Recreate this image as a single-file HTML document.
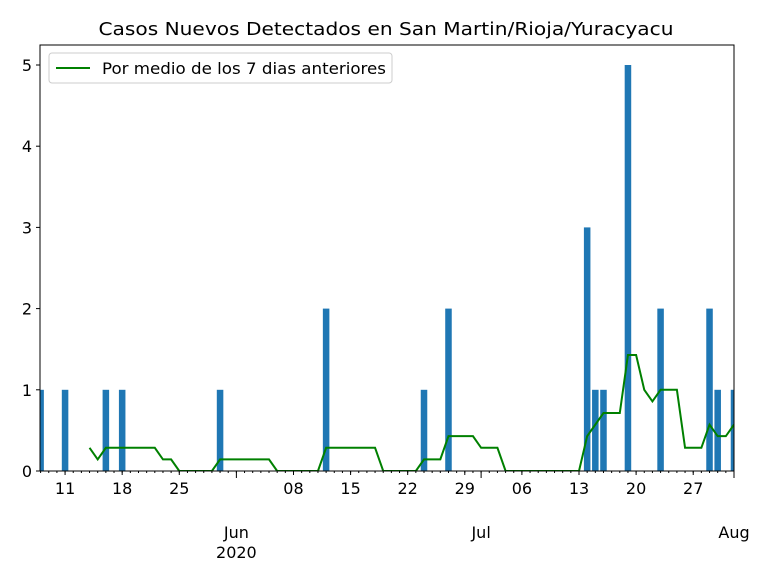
<!DOCTYPE html>
<html><head><meta charset="utf-8"><style>
body{margin:0;background:#fff;font-family:"Liberation Sans","DejaVu Sans",sans-serif;}
svg text{font-family:"DejaVu Sans","Liberation Sans",sans-serif;}
</style></head><body>
<svg id="c" width="768" height="576" xmlns="http://www.w3.org/2000/svg"></svg>
<script>
const barDays=[0,3,8,10,22,35,47,50,67,68,69,72,76,82,83,85];
const barValues=[1,1,1,1,1,2,1,2,3,1,1,5,2,2,1,1];
const lineStartDay=6;
const lineValues=[0.286,0.143,0.286,0.286,0.286,0.286,0.286,0.286,0.286,0.143,0.143,0,0,0,0,0,0.143,0.143,0.143,0.143,0.143,0.143,0.143,0,0,0,0,0,0,0.286,0.286,0.286,0.286,0.286,0.286,0.286,0,0,0,0,0,0.143,0.143,0.143,0.429,0.429,0.429,0.429,0.286,0.286,0.286,0,0,0,0,0,0,0,0,0,0,0.429,0.571,0.714,0.714,0.714,1.429,1.429,1.0,0.857,1.0,1.0,1.0,0.286,0.286,0.286,0.571,0.429,0.429,0.571];
const dayTickDays=[3,10,17,31,38,45,52,59,66,73,80];
const dayTickLabels=["11","18","25","08","15","22","29","06","13","20","27"];
const monthTickDays=[24,54,85];
const monthTickLabels=["Jun\n2020","Jul","Aug"];
const yTicks=[0,1,2,3,4,5];

const svg=document.getElementById('c');
const NS='http://www.w3.org/2000/svg';
const L=40.6,R=734,T=45,B=471;
const x=d=>L+(d)*(R-L)/85;
const y=v=>B-v*(B-65)/5;
function mk(tag,attrs,parent){const e=document.createElementNS(NS,tag);for(const k in attrs)e.setAttribute(k,attrs[k]);(parent||svg).appendChild(e);return e;}

const title=mk('text',{x:386,y:35,'text-anchor':'middle','font-size':18,textLength:575,lengthAdjust:'spacingAndGlyphs'});
title.textContent='Casos Nuevos Detectados en San Martin/Rioja/Yuracyacu';



const clip=mk('clipPath',{id:'pc'});mk('rect',{x:40,y:T,width:R-40,height:B-T},clip);
const plot=mk('g',{'clip-path':'url(#pc)'});


const bw=0.8*(R-L)/85;
barDays.forEach((d,i)=>{
  const r=mk('rect',{x:x(d)-bw/2,y:y(barValues[i]),width:bw,height:B-y(barValues[i]),fill:'#1f77b4'},plot);
  
  
});
const pts=lineValues.map((v,i)=>x(lineStartDay+i).toFixed(2)+','+y(v).toFixed(2)).join(' ');
const pl=mk('polyline',{points:pts,fill:'none',stroke:'#008000','stroke-width':2},plot);



const frame=mk('rect',{x:40,y:T,width:R-40,height:B-T,fill:'none',stroke:'#000','stroke-width':1});



yTicks.forEach(v=>{
  mk('line',{x1:36,x2:40,y1:y(v),y2:y(v),stroke:'#000'});
  const t=mk('text',{x:32,y:y(v)+6,'text-anchor':'end','font-size':16});t.textContent=v;
  
  
});
for(let d=0;d<=85;d++){mk('line',{x1:x(d),x2:x(d),y1:B,y2:B+2,stroke:'#000'});}
dayTickDays.forEach((d,i)=>{
  mk('line',{x1:x(d),x2:x(d),y1:B,y2:B+4,stroke:'#000'});
  const t=mk('text',{x:x(d),y:494,'text-anchor':'middle','font-size':16});t.textContent=dayTickLabels[i];
  
  
});
monthTickDays.forEach((d,i)=>{
  mk('line',{x1:x(d),x2:x(d),y1:B,y2:B+7,stroke:'#000'});
  monthTickLabels[i].split('\n').forEach((s,j)=>{
    const t=mk('text',{x:x(d),y:538+j*20,'text-anchor':'middle','font-size':16});t.textContent=s;
    
    
  });
});

const lg=mk('g',{});


mk('rect',{x:49,y:53,width:343,height:30,rx:3,fill:'#fff',stroke:'#ccc'},lg);
mk('line',{x1:56,x2:90,y1:68,y2:68,stroke:'#008000','stroke-width':2},lg);
const lt=mk('text',{x:102,y:74,'font-size':16,textLength:284,lengthAdjust:'spacingAndGlyphs'},lg);lt.textContent='Por medio de los 7 dias anteriores';


</script>
</body></html>
